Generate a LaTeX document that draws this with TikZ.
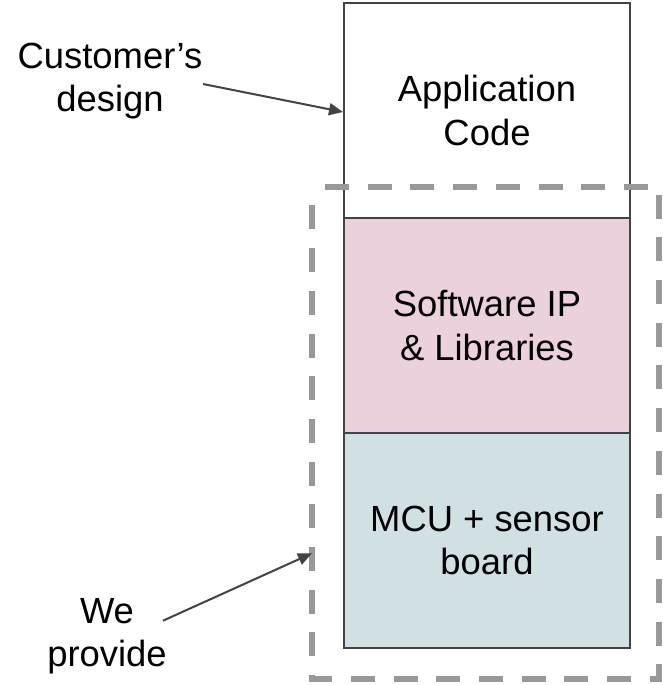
\documentclass[tikz,border=0pt]{standalone}
\usepackage{fontspec}
\setmainfont{Liberation Sans}
\usetikzlibrary{arrows.meta}
\definecolor{boxline}{HTML}{434343}
\definecolor{pinkfill}{HTML}{EAD1DC}
\definecolor{bluefill}{HTML}{D0E0E3}
\definecolor{dashgray}{HTML}{999999}
\tikzset{
  layer/.style={draw=boxline, line width=2pt, minimum width=286pt, minimum height=215pt, inner sep=0pt, align=center, font=\fontsize{36.4}{43.7}\selectfont},
  lbl/.style={align=center, inner sep=0pt, font=\fontsize{36.4}{43.7}\selectfont},
  pointer/.style={draw=boxline, line width=2pt, -{Triangle[length=14pt,width=12pt]}},
  provide/.style={draw=dashgray, line width=6pt, dash pattern=on 24pt off 18.7pt, dash phase=29.7pt}
}
\begin{document}
\begin{tikzpicture}[x=1pt,y=-1pt]
\useasboundingbox (0,0) rectangle (663,685);
\node[layer] (app) at (487,110.5) {Application\\Code};
\node[layer, fill=pinkfill] (sw) at (487,325.5) {Software IP\\\& Libraries};
\node[layer, fill=bluefill] (mcu) at (487,540.5) {MCU + sensor\\board};
\draw[provide] (312,187) -- (659,187) -- (659,679) -- (312,679) -- cycle;
\node[lbl, anchor=base] (cust) at (110,111.7) {Customer’s\\design};
\node[lbl, anchor=base] (we) at (107,666.7) {We\\provide};
\coordinate (custstart) at (203,84);
\coordinate (custend) at (343,112);
\coordinate (westart) at (163,620.7);
\coordinate (weend) at (312,553.3);
\draw[pointer] (custstart) -- (custend);
\draw[pointer] (westart) -- (weend);
\end{tikzpicture}
\end{document}
